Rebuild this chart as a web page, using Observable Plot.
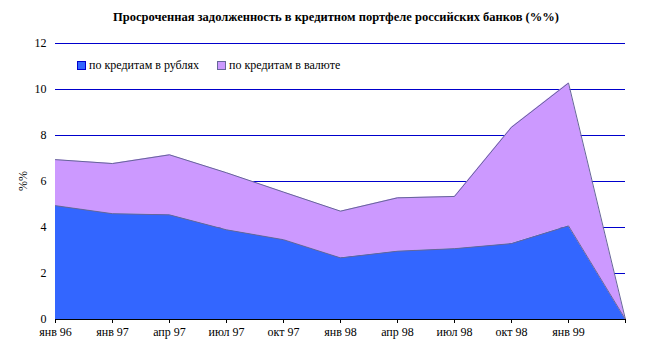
<!DOCTYPE html>
<html>
<head>
<meta charset="utf-8">
<script src="https://cdn.jsdelivr.net/npm/d3@7"></script>
<script src="https://cdn.jsdelivr.net/npm/@observablehq/plot@0.6"></script>
<style>
  html, body { margin: 0; padding: 0; background: #fff; }
  #wrap, #wrap * { font-family: "Liberation Serif", Tinos, "Times New Roman", Times, serif !important; }
  #wrap { position: relative; width: 650px; height: 354px; }
  #title { position: absolute; left: 0; width: 672px; top: 10px; text-align: center; font-weight: bold; font-size: 12.5px; color: #000; }
  .leg { position: absolute; top: 58px; font-size: 12px; color: #000; white-space: nowrap; }
  .sw { display: inline-block; width: 7px; height: 7px; border: 1px solid; vertical-align: -1px; margin-right: 3px; }
  #ylab { position: absolute; left: 23px; top: 181px; transform: translate(-50%, -50%) rotate(-90deg); font-size: 12px; }
  svg { position: absolute; left: 0; top: 0; }
</style>
</head>
<body>
<div id="wrap">
  <div id="title"></div>
  <div class="leg" id="leg0" style="left:77px"></div>
  <div class="leg" id="leg1" style="left:217px"></div>
  <div id="ylab"></div>
</div>
<script>
const titleText = "Просроченная задолженность в кредитном портфеле российских банков (%%)";
const yLabel = "%%";
const categories = ["янв 96", "янв 97", "апр 97", "июл 97", "окт 97", "янв 98", "апр 98", "июл 98", "окт 98", "янв 99", ""];
const seriesNames = ["по кредитам в рублях", "по кредитам в валюте"];
const rubles = [4.95, 4.6, 4.55, 3.9, 3.47, 2.68, 2.97, 3.08, 3.3, 4.07, 0];
const totals = [6.95, 6.78, 7.16, 6.38, 5.54, 4.71, 5.29, 5.35, 8.36, 10.28, 0];
const currency = totals.map((t, i) => +(t - rubles[i]).toFixed(2));
const colors = ["#3366ff", "#cc99ff"];
const yTicks = [0, 2, 4, 6, 8, 10, 12];

document.getElementById("title").textContent = titleText;
document.getElementById("ylab").textContent = yLabel;
seriesNames.forEach((s, k) => {
  const el = document.getElementById("leg" + k);
  const sw = document.createElement("span");
  sw.className = "sw";
  sw.style.background = colors[k];
  sw.style.borderColor = k === 0 ? "#0000cc" : "#666699";
  el.appendChild(sw);
  el.appendChild(document.createTextNode(s));
});

const data = [];
categories.forEach((c, i) => {
  data.push({i, series: seriesNames[0], v: rubles[i]});
  data.push({i, series: seriesNames[1], v: currency[i]});
});

const chart = Plot.plot({
  width: 650,
  height: 354,
  marginLeft: 55,
  marginRight: 25,
  marginTop: 43,
  marginBottom: 35,
  style: {fontFamily: "'Liberation Serif', serif", fontSize: "12px", background: "transparent", color: "#000"},
  x: {type: "linear", domain: [0, categories.length - 1]},
  y: {domain: [0, 12]},
  color: {domain: seriesNames, range: colors},
  marks: [
    Plot.ruleY(yTicks.filter(d => d > 0), {stroke: "#0000cc", strokeWidth: 1}),
    Plot.areaY(data, Plot.stackY({x: "i", y: "v", z: "series", fill: "series", order: seriesNames, curve: "linear"})),
    Plot.lineY(data, Plot.stackY2({x: "i", y: "v", z: "series", stroke: "#666699", order: seriesNames, strokeWidth: 1})),
    Plot.ruleY([0], {stroke: "#000"}),
    Plot.axisY({ticks: yTicks, tickSize: 0, tickPadding: 9, label: null, fontSize: 12}),
    Plot.axisX({ticks: d3.range(categories.length), tickFormat: i => categories[i], tickSize: 4, tickPadding: 4, label: null, fontSize: 12})
  ]
});
document.getElementById("wrap").appendChild(chart);
</script>
</body>
</html>
